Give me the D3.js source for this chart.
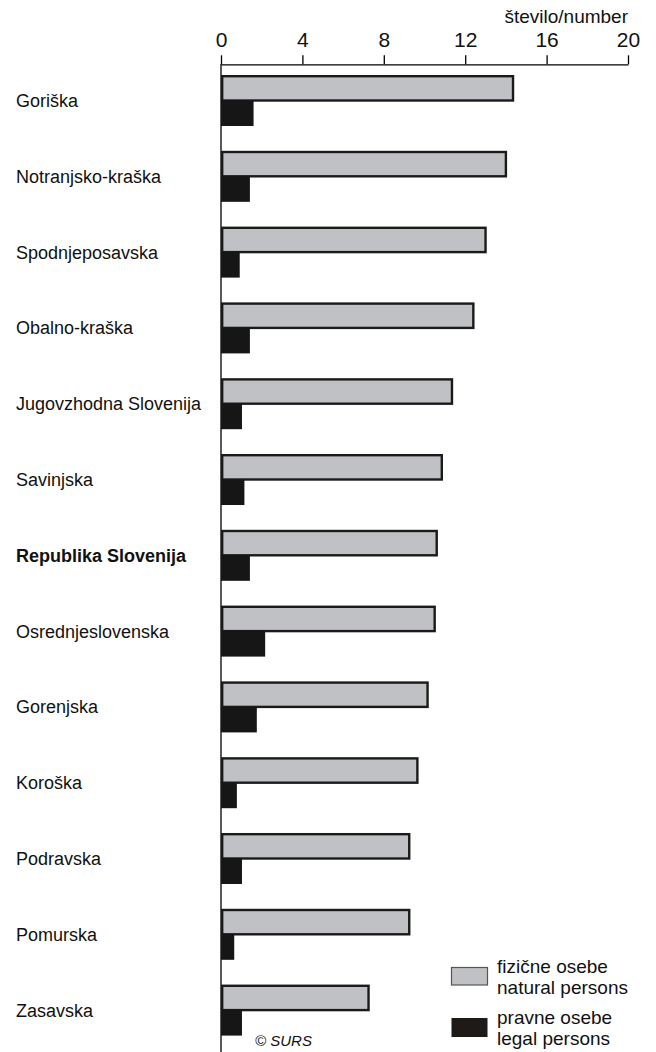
<!DOCTYPE html>
<html lang="sl">
<head>
    <meta charset="UTF-8">
    <title>Regije</title>
    <script src="https://cdn.jsdelivr.net/npm/d3@7"></script>
    <style>
        body { margin: 0; background: #fff; }
        svg { display: block; font-family: "Liberation Sans", Arial, sans-serif; }
    </style>
</head>
<body>
<script>

    // data
    var regions = ["Goriška", "Notranjsko-kraška", "Spodnjeposavska", "Obalno-kraška",
        "Jugovzhodna Slovenija", "Savinjska", "Republika Slovenija", "Osrednjeslovenska",
        "Gorenjska", "Koroška", "Podravska", "Pomurska", "Zasavska"];
    var natural = [14.35, 14.0, 13.0, 12.4, 11.35, 10.85, 10.6, 10.5, 10.15, 9.65, 9.25, 9.25, 7.25];
    var legal = [1.6, 1.42, 0.92, 1.42, 1.03, 1.15, 1.42, 2.17, 1.76, 0.78, 1.03, 0.65, 1.03];
    var xTicks = [0, 4, 8, 12, 16, 20];
    var boldRegion = "Republika Slovenija";

    var width = 656;
    var height = 1052;

    var svg = d3.select("body").append("svg")
        .attr("width", width)
        .attr("height", height);

    var xScale = d3.scaleLinear()
        .domain([0, 20])
        .range([221, 628]);

    var yScale = d3.scaleBand()
        .domain(regions)
        .range([75, 1035.6])
        .paddingInner(0.327)
        .paddingOuter(0);

    var half = yScale.bandwidth() / 2;

    // vertical axis line
    svg.append("line")
        .attr("x1", xScale(0)).attr("x2", xScale(0))
        .attr("y1", 64).attr("y2", height)
        .attr("stroke", "#000")
        .attr("stroke-width", 1.3);

    // top axis
    var axis = svg.append("g")
        .attr("transform", "translate(0,64.3)")
        .call(d3.axisTop(xScale).tickValues(xTicks).tickSize(9).tickSizeOuter(0).tickPadding(8));
    axis.select(".domain").attr("stroke", "#000").attr("stroke-width", 1.3);
    axis.selectAll(".tick line").attr("stroke", "#000").attr("stroke-width", 1.3);
    axis.selectAll(".tick text")
        .attr("font-size", "21px")
        .attr("font-family", "Liberation Sans, Arial, sans-serif")
        .attr("fill", "#111");

    svg.append("text")
        .attr("x", 628)
        .attr("y", 23)
        .attr("text-anchor", "end")
        .attr("font-size", "19px")
        .attr("fill", "#111")
        .text("število/number");

    var rows = regions.map(function (r, i) {
        return {region: r, natural: natural[i], legal: legal[i]};
    });

    var groups = svg.append("g").selectAll("g")
        .data(rows)
        .join("g");

    // natural persons
    groups.append("rect")
        .attr("x", xScale(0) + 1.2)
        .attr("y", function (d) { return yScale(d.region) + 1.2; })
        .attr("width", function (d) { return xScale(d.natural) - xScale(0) - 1.2; })
        .attr("height", half - 1.2)
        .attr("fill", "#c0c1c4")
        .attr("stroke", "#1a1a1a")
        .attr("stroke-width", 2.4);

    // legal persons
    groups.append("rect")
        .attr("x", xScale(0))
        .attr("y", function (d) { return yScale(d.region) + half; })
        .attr("width", function (d) { return xScale(d.legal) - xScale(0); })
        .attr("height", half)
        .attr("fill", "#161617");

    // category labels
    svg.append("g").selectAll("text")
        .data(rows)
        .join("text")
        .attr("x", 16)
        .attr("y", function (d) { return yScale(d.region) + half; })
        .attr("dy", "0.36em")
        .attr("font-size", "18px")
        .attr("font-weight", function (d) { return d.region === boldRegion ? "bold" : "normal"; })
        .attr("fill", "#111")
        .text(function (d) { return d.region; });

    // legend
    var legendItems = [
        {fill: "#c0c1c4", stroke: "#555", lines: ["fizične osebe", "natural persons"], y: 967.5},
        {fill: "#1e1a18", stroke: "none", lines: ["pravne osebe", "legal persons"], y: 1018}
    ];
    var legend = svg.append("g").selectAll("g")
        .data(legendItems)
        .join("g");
    legend.append("rect")
        .attr("x", 451.5)
        .attr("y", function (d) { return d.y; })
        .attr("width", 36)
        .attr("height", function (d, i) { return i === 0 ? 17.5 : 19; })
        .attr("fill", function (d) { return d.fill; })
        .attr("stroke", function (d) { return d.stroke; })
        .attr("stroke-width", 1.2);
    legend.each(function (d) {
        var g = d3.select(this);
        d.lines.forEach(function (t, j) {
            g.append("text")
                .attr("x", 497)
                .attr("y", d.y + 5.5 + j * 21.3)
                .attr("font-size", "19px")
                .attr("fill", "#111")
                .text(t);
        });
    });

    svg.append("text")
        .attr("x", 255)
        .attr("y", 1046)
        .attr("font-size", "15px")
        .attr("font-style", "italic")
        .attr("fill", "#111")
        .text("© SURS");

</script>
</body>
</html>
